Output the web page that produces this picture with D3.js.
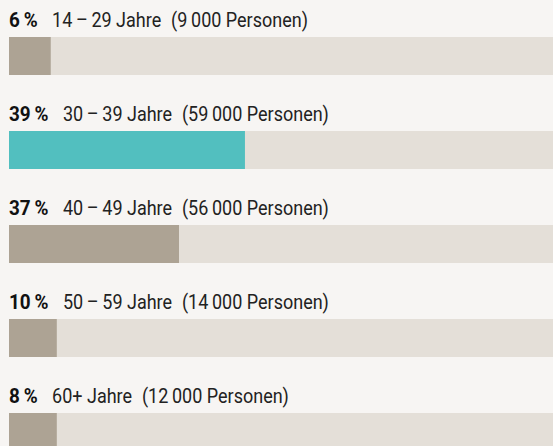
<!DOCTYPE html>
<html>
<head>
<meta charset="utf-8">
<script src="https://cdn.jsdelivr.net/npm/d3@7"></script>
<style>
  body { margin: 0; background: #f7f5f3; }
  text { font-family: "Roboto", "Noto Sans", sans-serif; }
</style>
</head>
<body>
<div id="chart"></div>
<script>
var ageGroups = ["14\u2009\u2013\u200929 Jahre", "30\u2009\u2013\u200939 Jahre", "40\u2009\u2013\u200949 Jahre", "50\u2009\u2013\u200959 Jahre", "60+ Jahre"];
var shareLabels = ["6", "39", "37", "10", "8"];
var persons = ["9\u2009000", "59\u2009000", "56\u2009000", "14\u2009000", "12\u2009000"];
// bar lengths as drawn in the picture (percent of full track)
var barShare = [6.9, 39, 28.1, 7.9, 7.9];
var highlight = [false, true, false, false, false];

var width = 553, height = 446;
var margin = { left: 9, top: 37 };
var rowStep = 94, barH = 38;

var svg = d3.select("#chart")
  .append("svg")
  .attr("width", width)
  .attr("height", height)
  .style("display", "block");

svg.append("rect")
  .attr("width", width)
  .attr("height", height)
  .attr("fill", "#f7f5f3");

var x = d3.scaleLinear()
  .domain([0, 100])
  .range([0, 605]);

var y = d3.scaleBand()
  .domain(d3.range(ageGroups.length))
  .range([margin.top, margin.top + rowStep * ageGroups.length])
  .paddingInner(0);

var rows = svg.selectAll(".row")
  .data(ageGroups)
  .enter()
  .append("g")
  .attr("class", "row")
  .attr("transform", function(d, i) { return "translate(" + margin.left + "," + y(i) + ")"; });

rows.append("rect")
  .attr("x", 0)
  .attr("y", 0)
  .attr("width", width - margin.left)
  .attr("height", barH)
  .attr("fill", "#e4dfd8");

rows.append("rect")
  .attr("x", 0)
  .attr("y", 0)
  .attr("width", function(d, i) { return x(barShare[i]); })
  .attr("height", barH)
  .attr("fill", function(d, i) { return highlight[i] ? "#52bfbf" : "#ada394"; });

// condensed look: squeeze the label horizontally
var label = rows.append("text")
  .attr("transform", "translate(0,-10) scale(0.9,1)")
  .attr("font-size", 20)
  .attr("fill", "#222");

label.append("tspan")
  .attr("font-weight", "bold")
  .attr("font-size", 21)
  .attr("fill", "#111")
  .text(function(d, i) { return shareLabels[i] + "\u2009%"; });

label.append("tspan")
  .attr("dx", 16)
  .text(function(d) { return d; });

label.append("tspan")
  .attr("dx", 11)
  .text(function(d, i) { return "(" + persons[i] + " Personen)"; });
</script>
</body>
</html>
